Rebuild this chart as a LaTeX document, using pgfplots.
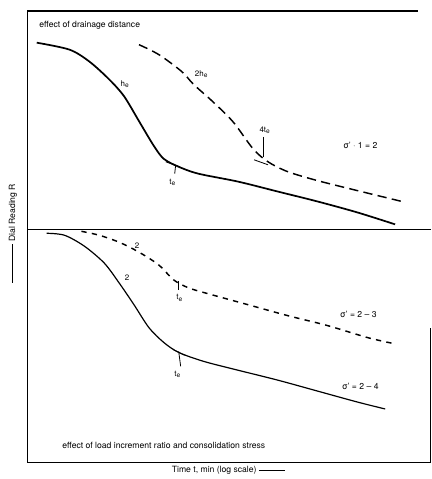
\documentclass[border=0pt]{standalone}
\usepackage{pgfplots}
\pgfplotsset{compat=1.18}
\usepackage{fontspec}
\setmainfont{TeX Gyre Heros}
\begin{document}
\begin{tikzpicture}[x=0.75pt,y=0.75pt]
\begin{axis}[
  scale only axis, width=304.5pt, height=341.25pt,
  xmin=28, xmax=434, ymin=11, ymax=466, y dir=reverse,
  axis lines=none, clip=false,
  /pgf/number format/assume math mode=true,
]
% frame
\draw[line width=1pt] (axis cs:28,466) -- (axis cs:28,11) -- (axis cs:421,11);
\draw[line width=1pt] (axis cs:28,231) -- (axis cs:434,231);
\draw[line width=1pt] (axis cs:28,466) -- (axis cs:434,466) -- (axis cs:434,330);
% top panel solid
\addplot[black, line width=1.3pt, smooth, tension=0.5] coordinates {
 (37,43) (70,50) (90,62) (110,80) (125,97) (140,122) (155,147) (165,160) (180,168) (200,175) (240,183) (280,193) (320,203) (360,214) (398,226)};
% top panel dashed
\addplot[black, line width=1.1pt, smooth, tension=0.5, dash pattern=on 7pt off 4pt] coordinates {
 (140,45) (160,55) (183,72) (195,85) (215,103) (235,123) (255,150) (270,163) (290,173) (320,182) (360,192) (405,203)};
% bottom panel solid
\addplot[black, line width=0.9pt, smooth, tension=0.5] coordinates {
 (47,235) (65,237) (85,248) (105,265) (120,285) (135,307) (150,330) (165,345) (180,355) (205,364) (240,373) (280,383) (320,394) (360,405) (388,412)};
% bottom panel dashed
\addplot[black, line width=1.1pt, smooth, tension=0.5, dash pattern=on 4pt off 4pt] coordinates {
 (82,233) (100,237) (120,244) (140,254) (160,267) (175,282) (190,290) (210,296) (250,307) (290,318) (330,328) (370,340) (396,346)};
% annotations top
\node[anchor=west, font=\fontsize{6.5}{7}\selectfont] at (axis cs:35,25) {effect of drainage distance};
\node[font=\fontsize{6}{7}\selectfont] at (axis cs:126,85) {h\textsubscript{e}};
\node[font=\fontsize{6}{7}\selectfont] at (axis cs:203,75) {2h\textsubscript{e}};
\node[font=\fontsize{6}{7}\selectfont] at (axis cs:267,131) {4t\textsubscript{e}};
\draw[line width=0.6pt] (axis cs:265,138) -- (axis cs:265,158);
\draw[line width=0.6pt] (axis cs:256,161) -- (axis cs:270,166);
\draw[line width=0.6pt] (axis cs:167,163) -- (axis cs:181,168);
\draw[line width=0.6pt] (axis cs:177,166) -- (axis cs:176,175);
\node[font=\fontsize{6}{7}\selectfont] at (axis cs:174,184) {t\textsubscript{e}};
\node[font=\fontsize{6.5}{7}\selectfont] at (axis cs:363,146) {σ' · 1 = 2};
% annotations bottom
\node[font=\fontsize{6}{7}\selectfont] at (axis cs:138,247) {2};
\node[font=\fontsize{6}{7}\selectfont] at (axis cs:128,280) {2};
\draw[line width=0.6pt] (axis cs:180,283) -- (axis cs:180,292);
\node[font=\fontsize{6}{7}\selectfont] at (axis cs:181,300) {t\textsubscript{e}};
\draw[line width=0.6pt] (axis cs:174,352) -- (axis cs:186,358);
\draw[line width=0.6pt] (axis cs:180,354) -- (axis cs:182,369);
\node[font=\fontsize{6}{7}\selectfont] at (axis cs:179,377) {t\textsubscript{e}};
\node[font=\fontsize{6.5}{7}\selectfont] at (axis cs:361,317) {σ' = 2 – 3};
\node[font=\fontsize{6.5}{7}\selectfont] at (axis cs:363,389) {σ' = 2 – 4};
\node[font=\fontsize{6.5}{7}\selectfont] at (axis cs:165,449) {effect of load increment ratio and consolidation stress};
% axis labels
\node[font=\fontsize{6.5}{7}\selectfont] at (axis cs:230,474) {Time t, min (log scale) \rule[0.25em]{3em}{0.5pt}};
\node[rotate=90, font=\fontsize{6.5}{7}\selectfont] at (axis cs:13,235) {\rule[0.25em]{4.5em}{0.5pt}\ Dial Reading R};
\path[use as bounding box] (axis cs:0,0) rectangle (axis cs:435,479);
\end{axis}
\end{tikzpicture}
\end{document}
